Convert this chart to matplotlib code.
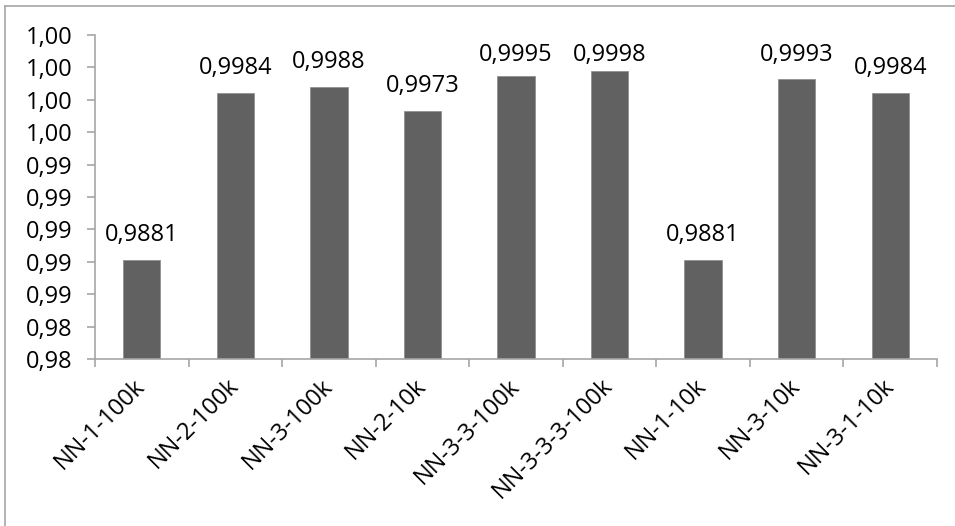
import matplotlib
matplotlib.use("Agg")
import matplotlib.pyplot as plt
from matplotlib.lines import Line2D
from matplotlib.ticker import FuncFormatter, MultipleLocator

categories = ["NN-1-100k", "NN-2-100k", "NN-3-100k", "NN-2-10k", "NN-3-3-100k",
              "NN-3-3-3-100k", "NN-1-10k", "NN-3-10k", "NN-3-1-10k"]
values = [0.9881, 0.9984, 0.9988, 0.9973, 0.9995, 0.9998, 0.9881, 0.9993, 0.9984]

plt.rcParams['font.family'] = ['Open Sans', 'DejaVu Sans']
FS = 17
W, H = 955, 526
fig = plt.figure(figsize=(W / 100, H / 100), dpi=100)
ax = fig.add_axes([95 / W, 1 - 359 / H, (937 - 95) / W, (359 - 35) / H])

x = list(range(len(categories)))
bars = ax.bar(x, values, width=0.4, color="#616161", edgecolor="#8a8a8a", linewidth=0.5, zorder=2)
ax.set_xlim(-0.5, len(categories) - 0.5)
ax.set_ylim(0.982, 1.002)
ax.yaxis.set_major_locator(MultipleLocator(0.002))
ax.yaxis.set_major_formatter(FuncFormatter(lambda v, p: f"{v:.2f}".replace(".", ",")))

# label baseline: 19 px above bar top, but not higher than 61 px below the figure top
max_baseline = H - 61
for b, v in zip(bars, values):
    top_px = ax.transData.transform((0, v))[1]
    off_px = min(19, max_baseline - top_px)
    ax.annotate(f"{v:.4f}".replace(".", ","), (b.get_x() + b.get_width() / 2, v),
                xytext=(0, off_px * 72 / 100), textcoords="offset points",
                ha="center", va="baseline", fontsize=FS, color="black")

for s in ["top", "right"]:
    ax.spines[s].set_visible(False)
for s in ["left", "bottom"]:
    ax.spines[s].set_color("#a6a6a6")
    ax.spines[s].set_linewidth(1.2)

ax.tick_params(axis="y", length=6, color="#a6a6a6", width=1.2, labelsize=FS, pad=10)
ax.set_xticks([i - 0.5 for i in range(len(categories) + 1)], minor=False)
ax.set_xticklabels([])
ax.tick_params(axis="x", which="major", length=6, color="#a6a6a6", width=1.2)
ax.set_xticks(x, minor=True)
ax.set_xticklabels(categories, minor=True, rotation=45, ha="right", va="center",
                   rotation_mode="anchor", fontsize=FS)
ax.tick_params(axis="x", which="minor", length=0, pad=17)

fig.add_artist(Line2D([5 / W, 5 / W], [0, 1 - 6 / H], color="#a6a6a6", lw=1.2))
fig.add_artist(Line2D([5 / W, 1], [1 - 6 / H, 1 - 6 / H], color="#a6a6a6", lw=1.2))

fig.savefig("out.png", dpi=100)
